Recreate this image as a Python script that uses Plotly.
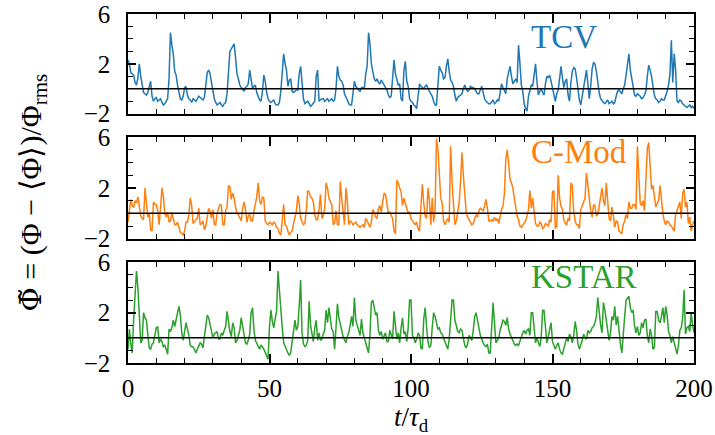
import plotly.graph_objects as go

# ---- data ----
# values at integer times t = 0..200
tcv_int = [2.3, 1.3, 1.1, 0.3, 2.0, 0.2, -0.4, -0.3, 0.6, -1.0,
           -0.7, -0.9, -1.1, -1.2, -0.8, 4.5, 2.8, 1.1, -0.4, -0.9,
           0.1, -0.5, -0.9, -0.8, -1.0, -0.6, -0.8, -0.7, 1.3, 1.2,
           -0.2, -1.1, -1.2, -1.3, -1.2, -0.4, 3.0, 3.4, 2.5, 0.8,
           0.1, -0.2, 0.2, 1.5, 0.0, 0.3, -0.7, -1.0, 1.1, -0.3,
           -1.0, -1.0, -1.2, -1.3, -0.2, 2.8, 1.5, 0.7, -0.2, -0.2,
           -0.1, 1.8, -0.8, -1.1, -1.2, -1.3, -1.0, 1.5, -0.9, -0.8,
           -0.9, -1.0, -0.8, -0.9, 1.8, 0.7, 0.3, -0.6, -1.2, -1.3,
           0.6, 0.0, -0.2, 0.1, 1.2, 4.5, 2.0, 0.8, 0.8, 0.4,
           0.5, 0.2, -0.5, -0.6, 2.3, 0.6, 0.4, -1.0, 2.2, 0.2,
           -1.0, -1.3, -1.6, 0.4, 0.1, 0.2, 0.0, -0.4, -1.0, -1.3,
           1.8, 1.3, 0.9, 2.4, 0.7, 0.2, -1.0, -0.6, -0.4, 0.3,
           -0.2, 0.2, 0.1, -0.2, -0.4, 0.2, -0.8, -1.1, -1.2, -0.9,
           -1.1, -1.0, 0.4, -0.2, 0.8, 1.8, 0.4, 0.8, 3.5, 0.3,
           -1.2, -1.8, 0.0, 0.2, 2.0, -0.5, 0.0, -0.5, 1.0, 1.1,
           0.0, -1.0, -0.1, 1.8, 0.1, 0.8, -1.0, 1.4, 1.6, 0.0,
           -1.3, 0.3, 1.5, -0.8, 1.6, 2.0, 0.5, -0.8, -1.1, -1.0,
           -1.2, -1.0, -1.1, -0.2, -0.3, 0.0, 1.1, 2.8, 0.8, -0.5,
           -0.4, -0.6, -0.7, -0.2, 1.9, 1.0, -0.5, -0.9, -1.0, -0.9,
           -0.6, 0.3, 3.9, 2.8, -1.0, -0.9, -1.2, -1.4, -1.4, -1.5,
           -1.6]
# values at half-integer times t = 0.5..199.5
tcv_half = [2.0, 1.2, 0.5, 0.9, 1.0, -0.3, -0.5, 0.2, -0.6, -0.8,
            -1.0, -0.8, -1.3, -1.0, 0.8, 3.5, 1.4, 0.3, -0.8, -0.6,
            0.2, -0.8, -1.1, -0.9, -0.8, -0.7, -0.9, 0.2, 1.5, 0.5,
            -0.8, -1.3, -1.1, -1.4, -1.1, 1.5, 3.2, 3.6, 1.2, 0.3,
            -0.1, 0.1, 0.4, 0.8, 0.2, -0.3, -0.9, -0.2, 0.6, -0.8,
            -1.1, -0.9, -1.3, -1.1, 1.5, 2.0, 0.2, 0.8, -0.3, -0.1,
            1.2, 0.4, -1.2, -1.0, -1.4, -1.1, 1.0, -1.0, -0.8, -1.0,
            -0.8, -0.9, -1.0, 0.0, 1.0, 0.6, -0.4, -0.9, -1.3, -0.2,
            0.2, -0.1, 0.1, 0.0, 1.8, 3.6, 1.5, 0.6, 0.5, 0.7,
            0.3, -0.1, -0.7, 1.2, 1.2, 0.3, -0.8, 1.5, 0.6, -0.8,
            -1.1, -1.4, -0.5, 0.2, 0.0, 0.3, -0.2, -0.6, -1.3, 0.5,
            1.5, 0.8, 1.8, 1.4, 0.5, -0.5, -0.7, -0.5, 0.0, 0.0,
            -0.1, 0.1, 0.0, -0.4, -0.1, -0.3, -1.0, -1.2, -1.0, -1.2,
            -0.9, -0.3, 0.1, -0.4, 1.2, 1.0, 0.6, 0.5, 2.0, -0.2,
            -1.6, -0.6, 0.3, 1.4, 0.6, -0.2, -0.3, 0.4, 0.9, 0.6,
            -0.7, -0.4, 0.8, 0.9, 0.6, -0.5, 0.5, 1.7, 0.9, -0.9,
            -0.5, 0.9, 0.4, 0.2, 2.1, 1.4, -0.3, -1.0, -1.2, -0.9,
            -1.1, -1.2, -0.6, -0.1, -0.4, 0.3, 2.0, 1.5, 0.0, -0.6,
            -0.5, -0.8, -0.5, 1.0, 1.5, 0.2, -0.8, -1.1, -0.8, -0.9,
            -0.2, 1.2, 0.5, 1.5, -1.1, -1.0, -1.3, -1.5, -1.3, -1.4]

cmod_int = [-0.7, 1.1, 0.5, 0.8, 0.3, -0.4, 2.0, -0.3, -1.3, 0.9,
            0.7, -0.9, 2.0, 0.0, 0.1, -0.6, -0.4, -0.9, -1.1, -1.6,
            -1.4, -0.7, 1.2, -0.8, -0.5, 0.4, -0.8, -1.3, -0.4, 0.2,
            0.3, -0.9, 0.4, 0.6, -0.9, 0.5, 2.1, 1.6, 0.5, -0.1,
            -0.6, 0.9, -0.7, -0.1, -0.6, 0.8, 2.4, 0.7, 1.2, -0.8,
            -0.7, -0.9, -0.8, -1.2, -1.7, 0.7, -1.0, -1.7, -1.4, -0.4,
            1.4, -0.4, -0.9, 0.2, 1.7, 1.2, -0.1, -0.5, 1.5, -0.2,
            2.4, 1.2, 0.7, -0.8, -0.9, 2.5, 0.0, 2.0, -0.9, -0.7,
            -0.8, -0.9, -1.1, -0.9, -0.4, -0.9, -0.7, 0.1, -0.4, 0.6,
            0.9, 1.5, 0.0, -0.1, -1.4, 2.6, 2.0, 0.6, 0.8, 0.0,
            -0.4, -0.8, -0.7, -1.4, 2.3, -0.2, 2.0, -0.9, -0.7, 5.9,
            2.6, 0.8, -0.9, -0.4, 5.3, 1.0, -0.6, 0.8, 4.8, 1.5,
            -0.3, -0.6, -0.8, -0.1, 0.2, 0.3, 0.6, 0.4, -0.6, -0.6,
            -0.6, -0.8, 0.3, 1.5, 5.0, 2.7, 2.0, 0.5, -0.5, -1.1,
            -0.8, -0.2, 1.8, 1.2, -0.8, -1.0, -0.8, -1.1, -0.9, -0.5,
            1.7, -1.2, 3.0, 0.6, -0.5, -0.9, -0.6, 2.2, -0.6, -0.9,
            0.3, 0.8, 3.2, 1.0, -0.3, 0.6, -0.1, 1.2, 1.0, 2.4,
            -0.4, 0.5, -1.1, -0.7, -1.5, -0.9, -0.1, 0.9, 0.4, 0.7,
            5.3, 0.8, 1.0, 2.6, 5.6, 1.9, 1.4, 0.8, 2.2, 0.0,
            -0.9, -0.7, -1.0, -1.4, 0.3, 0.9, 1.6, 0.5, -0.8, -1.4,
            -0.6]
cmod_half = [0.4, 0.6, 1.0, 1.3, -0.2, -0.5, 0.6, 0.0, -1.4, 0.7,
             0.2, 0.5, 1.3, -0.3, -0.7, 0.1, -0.9, -0.7, -1.5, -1.7,
             -0.7, -0.1, 0.6, -0.6, -0.4, -0.9, -0.6, -1.0, 0.4, -0.4,
             -0.9, 0.0, 0.7, -0.9, 0.2, 2.2, 1.1, 1.2, 0.0, -0.4,
             0.4, 0.3, -0.2, -0.6, 0.2, 1.3, 1.0, 1.3, -0.6, -0.9,
             -0.8, -0.7, -1.1, -1.6, -0.6, -0.9, -1.4, -1.5, -0.8, 0.2,
             0.8, -0.7, -0.8, 1.8, 1.3, 0.9, -0.5, 0.3, -0.4, 0.4,
             2.0, 0.9, -0.9, 0.2, -0.9, 1.2, -0.9, 1.0, -0.6, -0.9,
             -0.7, -1.0, -1.0, -1.1, -0.6, -1.1, 0.3, -0.3, 0.4, 0.1,
             1.6, 0.7, 0.1, -0.4, -1.6, 2.4, 1.7, 1.2, 0.4, 0.1,
             -0.6, -0.9, -1.2, 0.4, 0.8, -0.4, 1.0, 1.2, 0.2, 5.1,
             1.2, -0.6, -0.6, -0.7, 2.5, -0.9, 0.2, 2.5, 3.0, 0.1,
             -0.5, -0.9, -0.4, -0.3, 0.4, 0.2, 1.1, -0.6, -0.5, -0.3,
             -0.4, -0.2, 0.6, 4.3, 4.0, 2.4, 1.2, -0.2, -1.0, -0.9,
             -0.6, 0.3, 0.4, 0.0, -1.0, -0.7, -1.2, -0.8, -1.0, -0.7,
             1.8, -1.0, 1.2, 0.3, -0.8, -0.4, 2.4, 0.1, -0.9, -1.2,
             0.6, 1.2, 2.2, 0.2, 0.7, -0.2, 0.5, 2.0, 0.6, 0.5,
             -0.6, -0.2, -0.6, -1.4, -1.6, -0.6, -0.4, 0.4, 0.7, 0.3,
             2.5, 0.6, 0.2, 5.1, 3.5, 2.2, 0.5, 1.0, 0.8, -0.6,
             -0.6, -0.9, -1.2, -0.1, 0.6, -0.4, 1.9, 0.9, -0.3, -0.9]

kstar_int = [-0.9, -0.5, 1.5, 5.3, 2.0, -0.2, 1.6, 0.3, -0.9, -0.4,
             0.8, -0.4, -0.3, -0.6, -1.3, 0.5, 1.4, 1.5, 2.5, 0.4,
             0.5, 0.7, -0.6, -0.7, -1.2, -0.7, -0.5, 0.1, 1.8, 1.0,
             0.0, 0.4, -0.1, 0.4, 0.6, 2.1, 0.5, 1.2, -0.4, 0.3,
             1.6, 0.2, -0.5, 0.3, 2.4, -0.2, -0.6, -0.6, -0.9, -1.5,
             0.9, 1.3, 1.5, 5.3, 2.5, -0.4, -0.9, -1.4, -0.3, 1.4,
             0.9, 4.6, -0.5, -0.6, 2.9, 0.2, 0.8, -0.2, -0.2, 0.3,
             2.2, 2.4, 0.7, -0.9, 2.7, 1.2, 0.1, -0.4, 0.4, 1.7,
             3.2, 1.0, 0.2, 0.4, -0.4, -1.2, 2.8, 2.4, 2.0, 0.2,
             -0.1, 0.4, -0.3, 0.3, 2.1, -0.1, -0.4, 1.6, 0.5, 0.8,
             3.0, 0.0, -0.1, 0.2, -0.9, 2.4, -0.3, -0.6, 2.0, 1.1,
             0.8, 0.3, -0.4, -0.9, 1.7, 3.0, 1.0, 0.4, 0.6, -0.6,
             -0.5, 0.0, 0.6, 2.0, 0.8, -0.2, -0.6, -0.5, -1.2, 2.8,
             -0.4, 0.0, 1.0, 1.3, 1.6, 0.3, -0.3, -0.6, -0.6, 0.1,
             0.6, 0.6, 0.2, 2.0, -0.4, -0.4, 0.0, 2.2, -0.4, 0.8,
             -0.3, -0.9, -0.4, -1.2, -0.8, 0.0, 0.3, -0.4, 1.3, -0.5,
             -0.6, 0.3, -0.1, 0.4, 0.8, 1.2, 3.2, 1.0, 2.8, 1.2,
             -0.2, 1.7, 2.5, 1.7, -0.5, 0.7, 3.0, 3.3, 2.0, 0.9,
             0.9, 0.4, 0.8, 1.5, -0.4, 0.2, -0.8, 2.1, 1.2, 2.4,
             2.5, 0.5, -0.4, -0.4, -1.3, 0.6, 1.6, 0.3, 0.9, 2.0,
             0.4]
kstar_half = [0.7, -1.2, 3.3, 4.0, -0.4, 2.0, 1.4, -0.8, -0.5, 0.3,
              0.9, -0.1, -0.7, -0.9, 0.7, 0.8, 0.9, 2.2, 1.8, -0.2,
              1.2, 0.2, -0.7, -1.0, -0.9, -0.4, -0.8, 0.9, 1.6, 0.4,
              0.3, 0.5, -0.1, 0.2, 0.9, 1.2, 0.1, 0.8, -0.2, 0.6,
              0.8, -0.4, -0.2, 2.0, 0.6, -0.4, -0.9, -0.7, -1.2, -1.7,
              2.2, 0.8, 2.1, 3.5, 0.8, -0.7, -1.2, -1.2, 0.5, 0.6,
              2.5, 0.4, -0.7, -0.2, 1.0, -0.3, 1.4, 0.4, -0.1, 0.6,
              1.2, 1.6, 0.5, 0.8, 1.6, 0.6, -0.2, 0.1, 1.0, 0.9,
              1.4, 0.4, 1.5, 0.0, -1.0, 0.3, 3.0, 1.8, 0.6, 0.5,
              0.2, -0.3, 0.6, -0.1, 0.9, 0.4, 0.8, 0.3, -0.3, 3.0,
              0.2, -0.4, 0.4, -0.8, 1.5, 0.9, -0.8, 0.8, 1.7, 0.7,
              0.4, 0.0, -0.7, -0.1, 3.0, 1.4, 0.5, 0.7, -0.2, -0.8,
              0.2, -0.2, 1.7, 1.2, 0.2, -0.4, -0.7, -1.2, 1.5, 1.2,
              -0.2, 0.6, 1.4, 1.0, 0.7, 0.0, -0.5, -0.5, -0.2, 0.4,
              0.3, 0.7, 2.0, 0.5, 0.0, -0.7, 2.2, 0.5, 0.1, 1.2,
              -0.7, -0.6, -0.9, -1.3, -0.3, -0.3, 0.1, 0.2, 0.6, -0.9,
              -0.2, 0.0, 0.6, 0.5, 0.9, 1.7, 2.0, 0.4, 2.2, 0.6,
              0.4, 1.4, 1.0, 0.5, -1.2, 1.7, 3.2, 2.4, 2.2, 0.4,
              0.2, 1.2, 1.4, 0.2, 0.7, -0.9, 2.1, 1.4, 1.7, 1.2,
              1.8, 0.2, 0.1, -0.9, -0.6, 0.8, 3.8, 0.8, 0.5, 1.0]

names = ["TCV", "C-Mod", "KSTAR"]
colors = ["#1f77b4", "#ff7f0e", "#2ca02c"]


def merge(full, half):
    out = []
    for a, b in zip(full, half):
        out += [a, b]
    out.append(full[-1])
    return out


t = [k * 0.5 for k in range(401)]
series = [merge(tcv_int, tcv_half), merge(cmod_int, cmod_half), merge(kstar_int, kstar_half)]

# ---- figure ----
FONT = "Liberation Serif"
domains = [[0.7143, 1.0], [0.3562, 0.6467], [0.0, 0.2885]]
label_y = [0.772, 0.853, 0.855]

fig = go.Figure()
layout = dict(
    width=715, height=435,
    margin=dict(l=128, r=21, t=14, b=72, autoexpand=False),
    paper_bgcolor="white", plot_bgcolor="white",
    showlegend=False,
    font=dict(family=FONT, size=22, color="black"),
)

xmajor = dict(ticks="inside", ticklen=9, tickwidth=1.5, tickcolor="black", tick0=0, dtick=50,
              minor=dict(dtick=10, ticks="inside", ticklen=5, tickwidth=1.2, tickcolor="black"))
ymajor = dict(ticks="inside", ticklen=8, tickwidth=1.5, tickcolor="black", tick0=-2, dtick=4,
              minor=dict(dtick=1, ticks="inside", ticklen=5, tickwidth=1.2, tickcolor="black"))
tickfont = dict(family=FONT, size=25, color="black")

shapes = []
annotations = []
for i, (name, vals, col) in enumerate(zip(names, series, colors)):
    sfx = "" if i == 0 else str(i + 1)
    osfx = str(i + 4)
    fig.add_trace(go.Scatter(
        x=t, y=vals, mode="lines",
        line=dict(color=col, width=1.5),
        xaxis="x" + sfx, yaxis="y" + sfx, hoverinfo="skip",
    ))
    # empty trace to register the mirror (top/right) tick axes
    fig.add_trace(go.Scatter(x=[], y=[], xaxis="x" + osfx, yaxis="y" + osfx,
                             hoverinfo="skip"))
    layout["xaxis" + sfx] = dict(
        domain=[0, 1], anchor="y" + sfx, range=[0, 200],
        showline=True, linecolor="black", linewidth=1.5, mirror=True,
        showgrid=False, zeroline=False, automargin=False,
        showticklabels=(i == 2), tickfont=tickfont, ticklabelstandoff=2,
        **xmajor)
    layout["xaxis" + osfx] = dict(
        overlaying="x" + sfx, anchor="y" + sfx, side="top", range=[0, 200],
        showline=False, showgrid=False, zeroline=False, automargin=False,
        showticklabels=False, **xmajor)
    layout["yaxis" + sfx] = dict(
        domain=domains[i], anchor="x" + sfx, range=[-2, 6],
        showline=True, linecolor="black", linewidth=1.5, mirror=True,
        showgrid=False, zeroline=False, automargin=False,
        tickfont=tickfont, ticklabelstandoff=11, **ymajor)
    layout["yaxis" + osfx] = dict(
        overlaying="y" + sfx, anchor="x" + sfx, side="right", range=[-2, 6],
        showline=False, showgrid=False, zeroline=False, automargin=False,
        showticklabels=False, **ymajor)
    shapes.append(dict(type="line", xref="x" + sfx + " domain", x0=0, x1=1,
                       yref="y" + sfx, y0=0, y1=0,
                       line=dict(color="black", width=1.5)))
    annotations.append(dict(
        text=name, xref="x" + sfx + " domain", yref="y" + sfx + " domain",
        x=0.708, y=label_y[i], xanchor="left", yanchor="middle",
        showarrow=False, font=dict(family=FONT, size=33, color=col),
    ))

annotations.append(dict(
    text="<i>t</i>/<i>τ</i><sub>d</sub>", xref="paper", yref="paper",
    x=0.5, y=-0.16, xanchor="center", yanchor="middle", showarrow=False,
    font=dict(family=FONT, size=27, color="black")))

annotations.append(dict(
    text='<span style="font-family:DejaVu Serif">Φ\u0303</span>\u2005=\u2005(Φ\u2005−\u2005⟨Φ⟩)/Φ<sub>rms</sub>',
    xref="paper", yref="paper", x=-0.17, y=0.487,
    xanchor="center", yanchor="middle", textangle=-90, showarrow=False,
    font=dict(family=FONT, size=30, color="black"),
))

layout["shapes"] = shapes
layout["annotations"] = annotations
fig.update_layout(**layout)

fig.write_html("out.html", config={"displayModeBar": False},
               post_script="document.body.style.margin='0';")
